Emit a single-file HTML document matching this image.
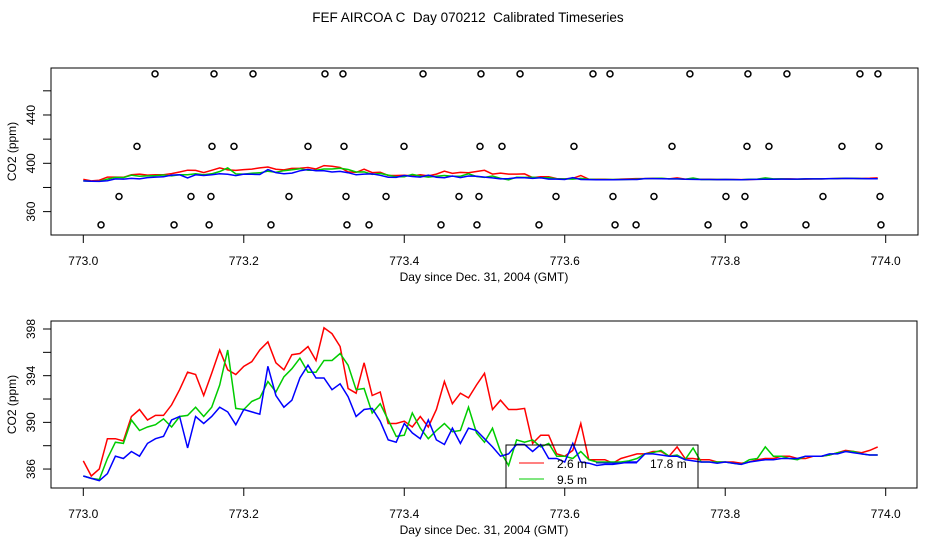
<!DOCTYPE html>
<html><head><meta charset="utf-8">
<style>
body{margin:0;background:#fff;}
svg{display:block;font-family:"Liberation Sans",sans-serif;}
text{font-size:12px;fill:#000;white-space:pre;}
</style></head>
<body>
<svg id="chart" width="936" height="540" xmlns="http://www.w3.org/2000/svg">
<rect x="0" y="0" width="936" height="540" fill="#fff"/>
<text x="468" y="22" text-anchor="middle" style="font-size:13.5px">FEF AIRCOA C  Day 070212  Calibrated Timeseries</text>
<g id="topPanel"></g>
<g id="botPanel"></g>
</svg>
<script>
const days = [];
for (let i = 0; i < 100; i++) days.push(773 + i * 0.01);
const red = [386.7,385.4,386.0,388.6,388.6,388.4,390.5,391.1,390.2,390.6,
390.6,391.5,392.8,394.3,394.1,392.3,394.2,396.2,394.5,394.1,
394.8,395.2,396.2,396.9,395.1,394.5,395.8,395.9,396.5,395.3,
398.1,397.6,396.5,392.9,392.5,395.1,392.3,392.6,389.9,389.9,
390.1,389.6,390.5,389.6,391.1,393.5,391.6,392.5,392.1,393.2,
394.2,391.1,391.9,391.1,391.1,391.2,388.2,388.9,388.9,387.3,
387.1,387.6,389.9,386.8,386.8,386.8,386.5,386.9,387.1,387.3,
387.3,387.5,387.5,387.1,387.9,386.9,386.9,386.8,386.8,386.6,
386.6,386.6,386.5,386.6,386.8,386.9,386.9,387.1,387.1,386.9,
386.9,387.1,387.1,387.2,387.4,387.6,387.5,387.4,387.6,387.9];
const green = [385.4,385.2,385.1,386.9,388.3,388.2,390.2,389.3,389.6,389.8,
390.3,389.6,390.5,390.6,391.3,390.5,391.3,393.2,396.2,391.2,
391.1,391.8,392.1,393.5,392.6,393.9,394.6,395.5,394.3,394.3,
395.3,395.3,395.9,394.9,392.8,392.9,390.8,391.6,390.2,388.8,
388.9,390.8,389.5,388.6,389.3,389.9,389.2,389.3,391.3,389.1,
388.3,389.5,387.5,386.3,388.5,388.3,388.5,387.9,388.2,387.1,
387.1,386.9,387.5,386.8,386.6,386.6,386.6,386.6,386.7,386.9,
387.3,387.4,387.6,387.1,387.2,386.8,387.8,386.6,386.6,386.6,
386.6,386.5,386.4,386.8,386.9,387.9,387.1,387.1,386.9,386.8,
387.1,387.1,387.1,387.2,387.4,387.5,387.5,387.3,387.2,387.2];
const blue = [385.4,385.2,385.0,385.6,387.1,386.9,387.5,387.1,388.2,388.6,
388.8,390.2,390.5,387.8,390.5,389.9,390.5,391.3,390.9,389.8,
391.1,390.9,390.7,394.8,392.3,391.3,391.9,393.8,394.9,393.8,
393.8,392.8,393.3,392.2,390.5,391.1,391.2,390.1,388.5,388.3,
389.9,389.1,388.6,390.2,388.5,388.1,389.5,388.2,389.5,389.3,
388.6,387.9,387.1,387.3,388.1,388.1,387.5,388.1,386.9,386.9,
386.6,388.2,386.6,386.5,386.3,386.4,386.4,386.5,386.6,386.6,
387.3,387.3,387.2,387.1,387.1,386.8,386.7,386.6,386.6,386.5,
386.6,386.5,386.4,386.6,386.7,386.8,386.8,386.9,386.9,386.9,
387.1,387.1,387.1,387.3,387.3,387.5,387.4,387.3,387.2,387.2];
const outDays = [773.0894,773.1629,773.2115,773.3012,773.3236,773.4234,773.4956,773.5443,773.6352,773.6564,773.7560,773.8283,773.8769,773.9679,773.9903,
773.0669,773.1604,773.1878,773.2800,773.3249,773.3997,773.4944,773.5218,773.6115,773.7337,773.8271,773.8545,773.9455,773.9916,
773.0445,773.1342,773.1591,773.2563,773.3274,773.3773,773.4682,773.4931,773.5891,773.6601,773.7112,773.8009,773.8246,773.9218,773.9929,
773.0221,773.1131,773.1568,773.2339,773.3286,773.3561,773.4458,773.4906,773.5679,773.6627,773.6889,773.7786,773.8234,773.9006,773.9941];
const outVals = [474,474,474,474,474,474,474,474,474,474,474,474,474,474,474,
414,414,414,414,414,414,414,414,414,414,414,414,414,414,
372.5,372.5,372.5,372.5,372.5,372.5,372.5,372.5,372.5,372.5,372.5,372.5,372.5,372.5,372.5,
349,349,349,349,349,349,349,349,349,349,349,349,349,349,349];
const xTicks = [773.0,773.2,773.4,773.6,773.8,774.0];
const topTicks = [360,380,400,420,440,460];
const topLabels = [360,400,440];
const botTicks = [386,388,390,392,394,396,398];
const botLabels = [386,390,394,398];

const NS = "http://www.w3.org/2000/svg";
function mk(parent, tag, attrs, txt){
  const e = document.createElementNS(NS, tag);
  for (const k in attrs) e.setAttribute(k, attrs[k]);
  if (txt !== undefined) e.textContent = txt;
  parent.appendChild(e); return e;
}
const xs = d => 83.3 + (d - 773) * 802.4;

function panel(g, box, ys, yTicks, yLabels, name){
  const r = mk(g, 'rect', {x:box.x0, y:box.y0, width:box.x1-box.x0, height:box.y1-box.y0, fill:'none', stroke:'#000', 'stroke-width':1});
  
  
  xTicks.forEach(t => {
    const x = xs(t);
    const l = mk(g, 'line', {x1:x, x2:x, y1:box.y1, y2:box.y1+8, stroke:'#000'});
    
    
    const tx = mk(g, 'text', {x:x, y:box.y1+30, 'text-anchor':'middle'}, t.toFixed(1));
    
    
  });
  yTicks.forEach(t => {
    const y = ys(t);
    const l = mk(g, 'line', {x1:box.x0-8, x2:box.x0, y1:y, y2:y, stroke:'#000'});
    
    
  });
  yLabels.forEach(t => {
    const y = ys(t);
    const tx = mk(g, 'text', {x:0, y:0, 'text-anchor':'middle', transform:`translate(35,${y}) rotate(-90)`}, String(t));
    
    
  });
  const xl = mk(g, 'text', {x:484, y:box.y1+46, 'text-anchor':'middle'}, 'Day since Dec. 31, 2004 (GMT)');
  
  
  const yl = mk(g, 'text', {x:0, y:0, 'text-anchor':'middle', transform:`translate(16,${(box.y0+box.y1)/2}) rotate(-90)`}, 'CO2 (ppm)');
  
  
  [[red,'#f00','red'],[green,'#0c0','green'],[blue,'#00f','blue']].forEach(([s,c,n]) => {
    const pts = s.map((v,i) => xs(days[i]).toFixed(1) + ',' + ys(v).toFixed(1)).join(' ');
    const p = mk(g, 'polyline', {points:pts, fill:'none', stroke:c, 'stroke-width':1.5});
    
    
  });
}

const topG = document.getElementById('topPanel');
const topBox = {x0:51, x1:918, y0:68, y1:235};
const ysTop = v => 163.3 - (v - 400) * 1.208;
panel(topG, topBox, ysTop, topTicks, topLabels, 'top');
outDays.forEach((d,i) => {
  const c = mk(topG, 'circle', {cx:xs(d), cy:ysTop(outVals[i]), r:3, fill:'none', stroke:'#000', 'stroke-width':1.5});
  
  
});

const botG = document.getElementById('botPanel');
const botBox = {x0:51, x1:917, y0:321, y1:488};
const ysBot = v => 329 + (398 - v) * 11.67;
panel(botG, botBox, ysBot, botTicks, botLabels, 'bottom');

const lg = mk(botG, 'g', {});


mk(lg, 'rect', {x:506, y:445, width:192, height:43, fill:'none', stroke:'#000'});
const entries = [['2.6 m','#f00',519,544,557,463],['9.5 m','#0c0',519,544,557,479],['17.8 m','#00f',596,637,650,463]];
entries.forEach(([t,c,a,b,tx,y]) => {
  const e = mk(lg, 'g', {});
  
  
  mk(e, 'line', {x1:a, x2:b, y1:y, y2:y, stroke:c, 'stroke-width':1});
  mk(e, 'text', {x:tx, y:y+5}, t);
});
</script>
</body></html>
